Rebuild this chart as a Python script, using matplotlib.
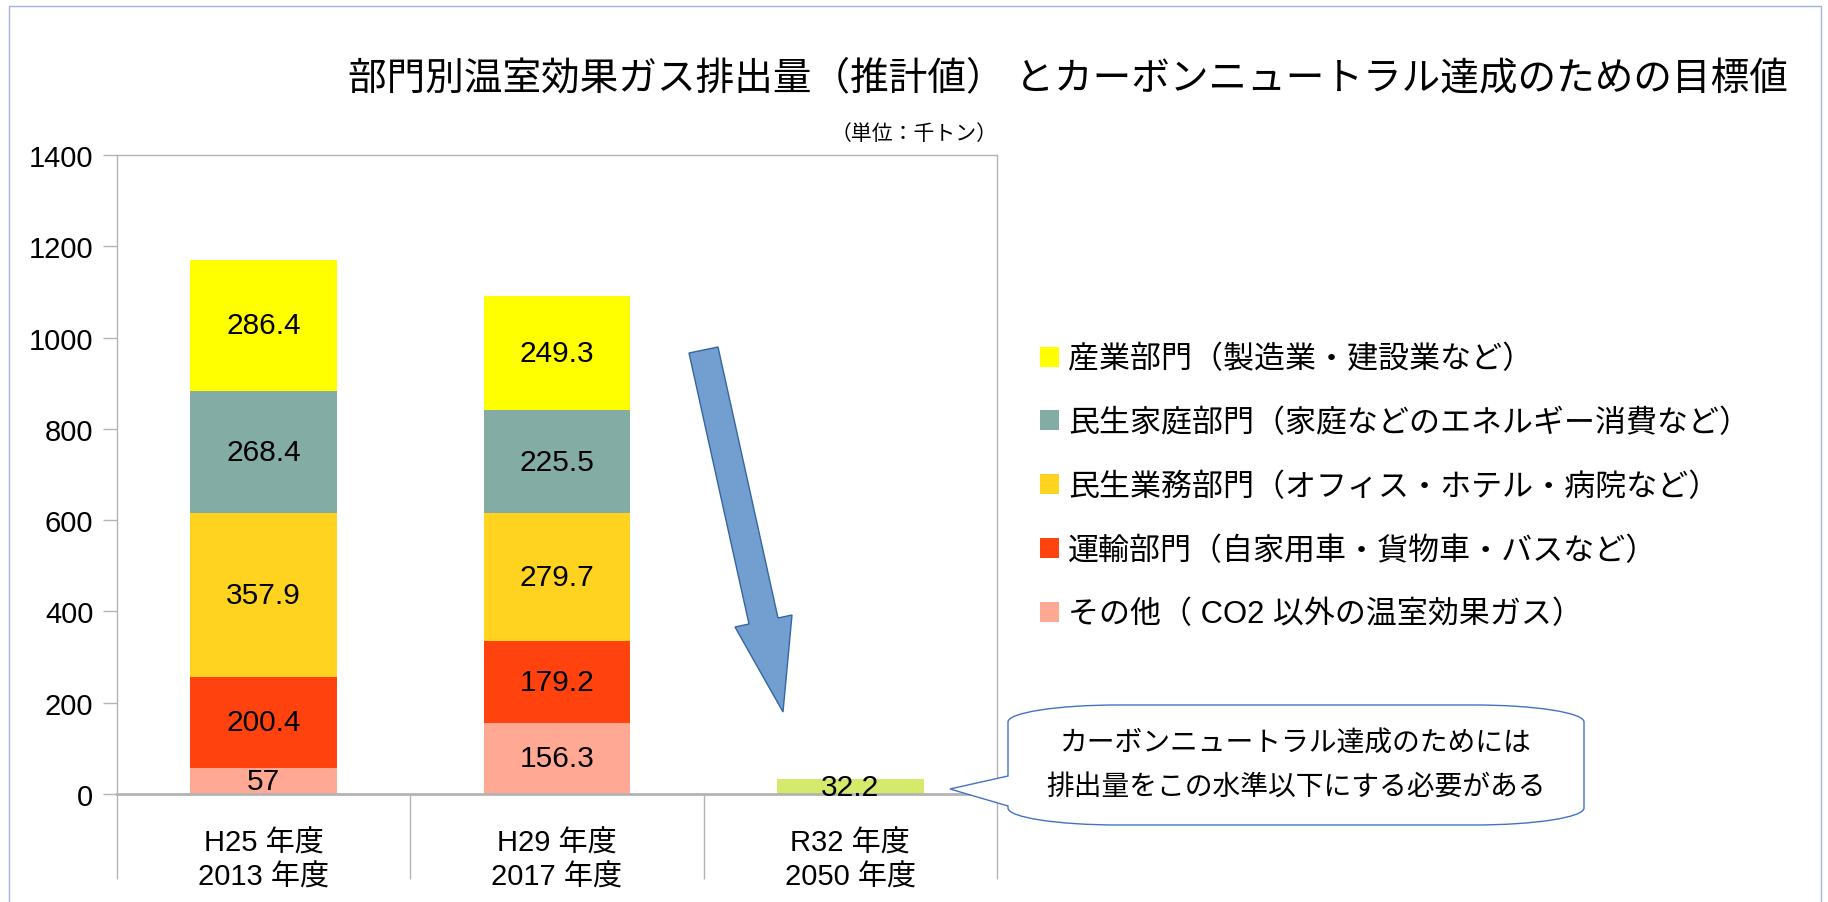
import matplotlib
matplotlib.use('Agg')
import matplotlib.pyplot as plt
from matplotlib.patches import Polygon, PathPatch, Rectangle
from matplotlib.path import Path
import numpy as np

plt.rcParams['font.family'] = ['Liberation Sans', 'Noto Sans CJK JP']

W, H = 1828, 903

# ---------------- data ----------------
categories = ["H25 年度\n2013 年度", "H29 年度\n2017 年度", "R32 年度\n2050 年度"]
yticks = [0, 200, 400, 600, 800, 1000, 1200, 1400]

# stacked from bottom to top (first two categories)
other = [57, 156.3]
transport = [200.4, 179.2]
commercial = [357.9, 279.7]
household = [268.4, 225.5]
industry = [286.4, 249.3]
target_2050 = [32.2]

series_names = [
    "その他（ CO2 以外の温室効果ガス）",
    "運輸部門（自家用車・貨物車・バスなど）",
    "民生業務部門（オフィス・ホテル・病院など）",
    "民生家庭部門（家庭などのエネルギー消費など）",
    "産業部門（製造業・建設業など）",
]
series_values = [other, transport, commercial, household, industry]
series_colors = ["#FFA893", "#FF420E", "#FFD320", "#83ACA5", "#FFFF00"]
target_color = "#D4EA6B"

title = "部門別温室効果ガス排出量（推計値） とカーボンニュートラル達成のための目標値"
unit_text = "（単位：千トン）"
bubble_lines = ["カーボンニュートラル達成のためには", "排出量をこの水準以下にする必要がある"]

GRAY = "#b3b3b3"

def fx(x):
    return x / W

def fy(y):
    return 1 - y / H

# ---------------- figure ----------------
fig = plt.figure(figsize=(W / 100, H / 100), dpi=100)
ax = fig.add_axes([fx(117), fy(795), (997 - 117) / W, (795 - 156) / H])

x = np.arange(len(categories))
bottom = np.zeros(2)
containers = []
for name, vals, col in zip(series_names, series_values, series_colors):
    bc = ax.bar(x[:2], vals, width=0.5, bottom=bottom, color=col, label=name, zorder=2)
    ax.bar_label(bc, labels=[f"{v:g}" for v in vals], label_type='center', fontsize=21.5)
    containers.append(bc)
    bottom = bottom + np.array(vals)

tb = ax.bar(x[2:], target_2050, width=0.5, color=target_color, zorder=2)
ax.bar_label(tb, labels=[f"{v:g}" for v in target_2050], label_type='center', fontsize=21.5)

ax.set_xlim(-0.5, 2.5)
ax.set_ylim(0, 1400)
ax.set_yticks(yticks)
ax.tick_params(axis='y', length=10, width=1, color=GRAY, pad=7, labelsize=21)

ax.set_xticks([-0.5, 0.5, 1.5, 2.5])
ax.set_xticklabels([])
ax.tick_params(axis='x', which='major', length=61, width=1, color=GRAY)
ax.set_xticks(x, minor=True)
ax.set_xticklabels(categories, minor=True, fontsize=21, linespacing=1.26)
ax.tick_params(axis='x', which='minor', length=0, pad=25)

for s in ['left', 'right', 'top']:
    ax.spines[s].set_color(GRAY)
    ax.spines[s].set_linewidth(1)
ax.spines['bottom'].set_color(GRAY)
ax.spines['bottom'].set_linewidth(2)

# legend (top to bottom: reversed stacking)
handles = [c.patches[0] for c in containers][::-1]
labels = series_names[::-1]
leg = fig.legend(handles, labels, loc='center left', bbox_to_anchor=(fx(1040), fy(488)),
                 frameon=False, fontsize=22.3, handlelength=0.61, handleheight=0.61,
                 handletextpad=0.29, labelspacing=1.09, borderpad=0, borderaxespad=0)

# title / unit
fig.text(fx(1068), fy(79), title, ha='center', va='center', fontsize=27.8)
fig.text(fx(914), fy(134), unit_text, ha='center', va='center', fontsize=15)

# blue arrow
arrow_px = [(689, 354), (718, 348), (778, 619), (792, 616), (783, 713), (735, 628), (749, 625)]
fig.patches.append(Polygon([(fx(a), fy(b)) for a, b in arrow_px], closed=True,
                           facecolor="#729FCF", edgecolor="#3465A4", linewidth=1,
                           transform=fig.transFigure, zorder=5))

# speech bubble
L, R, T, B = 1008, 1584, 706, 826
rx, ry, k = 110, 17, 0.5523
pts = [
    (L, T + ry),
    (L, T + ry - k * ry), (L + rx - k * rx, T), (L + rx, T),
    (R - rx, T),
    (R - rx + k * rx, T), (R, T + ry - k * ry), (R, T + ry),
    (R, B - ry),
    (R, B - ry + k * ry), (R - rx + k * rx, B), (R - rx, B),
    (L + rx, B),
    (L + rx - k * rx, B), (L, B - ry + k * ry), (L, B - ry),
    (L, 807), (950, 790), (L, 777),
    (L, T + ry),
]
codes = [Path.MOVETO,
         Path.CURVE4, Path.CURVE4, Path.CURVE4,
         Path.LINETO,
         Path.CURVE4, Path.CURVE4, Path.CURVE4,
         Path.LINETO,
         Path.CURVE4, Path.CURVE4, Path.CURVE4,
         Path.LINETO,
         Path.CURVE4, Path.CURVE4, Path.CURVE4,
         Path.LINETO, Path.LINETO, Path.LINETO,
         Path.CLOSEPOLY]
bpath = Path([(fx(a), fy(b)) for a, b in pts], codes)
fig.patches.append(PathPatch(bpath, facecolor='white', edgecolor='#4472C4', linewidth=1,
                             transform=fig.transFigure, zorder=5))
fig.text(fx(1296), fy(745), bubble_lines[0], ha='center', va='center', fontsize=20, zorder=6)
fig.text(fx(1296), fy(788), bubble_lines[1], ha='center', va='center', fontsize=20, zorder=6)

# outer border
fig.patches.append(Rectangle((fx(9), fy(920)), (1821 - 9) / W, (920 - 7) / H, fill=False,
                             edgecolor="#9fb4d8", linewidth=1, transform=fig.transFigure))

fig.savefig("out.png", dpi=100)
